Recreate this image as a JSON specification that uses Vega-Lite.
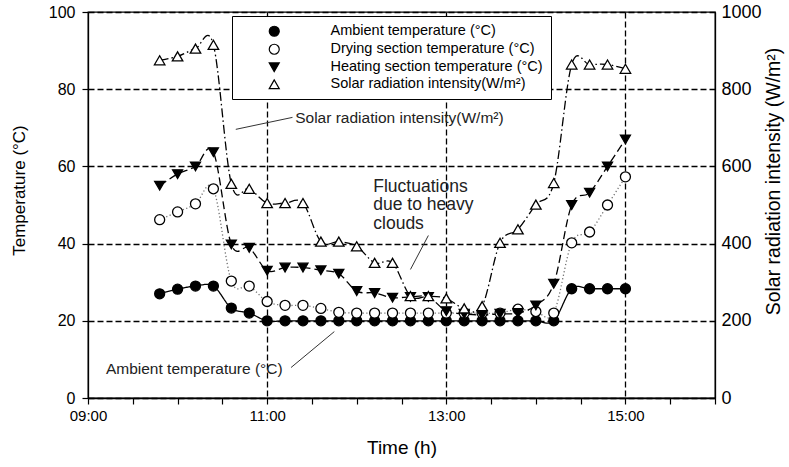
{
  "$schema": "https://vega.github.io/schema/vega-lite/v6.json",
  "width": 627,
  "height": 386,
  "autosize": {"type": "none"},
  "padding": {"left": 88, "top": 12, "right": 74, "bottom": 69},
  "background": "white",
  "config": {
    "view": {"stroke": "black", "strokeWidth": 1.3},
    "font": "Liberation Sans",
    "axis": {"labelFont": "Liberation Sans", "titleFont": "Liberation Sans", "labelColor": "black", "titleColor": "black", "titleFontWeight": "normal", "domainColor": "black", "domainWidth": 1.3, "tickColor": "black", "tickWidth": 1.2}
  },
  "datasets": {
    "temp": [
      {"time": 9.8, "series": "Ambient temperature (°C)", "value": 27},
      {"time": 10.0, "series": "Ambient temperature (°C)", "value": 28.2},
      {"time": 10.2, "series": "Ambient temperature (°C)", "value": 29},
      {"time": 10.4, "series": "Ambient temperature (°C)", "value": 29},
      {"time": 10.6, "series": "Ambient temperature (°C)", "value": 23.3},
      {"time": 10.8, "series": "Ambient temperature (°C)", "value": 22},
      {"time": 11.0, "series": "Ambient temperature (°C)", "value": 20},
      {"time": 11.2, "series": "Ambient temperature (°C)", "value": 20},
      {"time": 11.4, "series": "Ambient temperature (°C)", "value": 20},
      {"time": 11.6, "series": "Ambient temperature (°C)", "value": 20},
      {"time": 11.8, "series": "Ambient temperature (°C)", "value": 20},
      {"time": 12.0, "series": "Ambient temperature (°C)", "value": 20},
      {"time": 12.2, "series": "Ambient temperature (°C)", "value": 20},
      {"time": 12.4, "series": "Ambient temperature (°C)", "value": 20},
      {"time": 12.6, "series": "Ambient temperature (°C)", "value": 20},
      {"time": 12.8, "series": "Ambient temperature (°C)", "value": 20},
      {"time": 13.0, "series": "Ambient temperature (°C)", "value": 20},
      {"time": 13.2, "series": "Ambient temperature (°C)", "value": 20},
      {"time": 13.4, "series": "Ambient temperature (°C)", "value": 20},
      {"time": 13.6, "series": "Ambient temperature (°C)", "value": 20},
      {"time": 13.8, "series": "Ambient temperature (°C)", "value": 20},
      {"time": 14.0, "series": "Ambient temperature (°C)", "value": 20},
      {"time": 14.2, "series": "Ambient temperature (°C)", "value": 20},
      {"time": 14.4, "series": "Ambient temperature (°C)", "value": 28.3},
      {"time": 14.6, "series": "Ambient temperature (°C)", "value": 28.3},
      {"time": 14.8, "series": "Ambient temperature (°C)", "value": 28.3},
      {"time": 15.0, "series": "Ambient temperature (°C)", "value": 28.3},
      {"time": 9.8, "series": "Drying section temperature (°C)", "value": 46.2},
      {"time": 10.0, "series": "Drying section temperature (°C)", "value": 48.2},
      {"time": 10.2, "series": "Drying section temperature (°C)", "value": 50.3},
      {"time": 10.4, "series": "Drying section temperature (°C)", "value": 54.2},
      {"time": 10.6, "series": "Drying section temperature (°C)", "value": 30.3},
      {"time": 10.8, "series": "Drying section temperature (°C)", "value": 29},
      {"time": 11.0, "series": "Drying section temperature (°C)", "value": 25},
      {"time": 11.2, "series": "Drying section temperature (°C)", "value": 24},
      {"time": 11.4, "series": "Drying section temperature (°C)", "value": 24},
      {"time": 11.6, "series": "Drying section temperature (°C)", "value": 23.2},
      {"time": 11.8, "series": "Drying section temperature (°C)", "value": 22.2},
      {"time": 12.0, "series": "Drying section temperature (°C)", "value": 22},
      {"time": 12.2, "series": "Drying section temperature (°C)", "value": 22},
      {"time": 12.4, "series": "Drying section temperature (°C)", "value": 22},
      {"time": 12.6, "series": "Drying section temperature (°C)", "value": 22},
      {"time": 12.8, "series": "Drying section temperature (°C)", "value": 22},
      {"time": 13.0, "series": "Drying section temperature (°C)", "value": 22},
      {"time": 13.2, "series": "Drying section temperature (°C)", "value": 22},
      {"time": 13.4, "series": "Drying section temperature (°C)", "value": 22},
      {"time": 13.6, "series": "Drying section temperature (°C)", "value": 22},
      {"time": 13.8, "series": "Drying section temperature (°C)", "value": 23},
      {"time": 14.0, "series": "Drying section temperature (°C)", "value": 22.4},
      {"time": 14.2, "series": "Drying section temperature (°C)", "value": 22},
      {"time": 14.4, "series": "Drying section temperature (°C)", "value": 40.2},
      {"time": 14.6, "series": "Drying section temperature (°C)", "value": 43},
      {"time": 14.8, "series": "Drying section temperature (°C)", "value": 50},
      {"time": 15.0, "series": "Drying section temperature (°C)", "value": 57.3},
      {"time": 9.8, "series": "Heating section temperature (°C)", "value": 55},
      {"time": 10.0, "series": "Heating section temperature (°C)", "value": 58},
      {"time": 10.2, "series": "Heating section temperature (°C)", "value": 60},
      {"time": 10.4, "series": "Heating section temperature (°C)", "value": 63.7},
      {"time": 10.6, "series": "Heating section temperature (°C)", "value": 39.8},
      {"time": 10.8, "series": "Heating section temperature (°C)", "value": 38.9},
      {"time": 11.0, "series": "Heating section temperature (°C)", "value": 33},
      {"time": 11.2, "series": "Heating section temperature (°C)", "value": 33.8},
      {"time": 11.4, "series": "Heating section temperature (°C)", "value": 33.8},
      {"time": 11.6, "series": "Heating section temperature (°C)", "value": 33.1},
      {"time": 11.8, "series": "Heating section temperature (°C)", "value": 32.2},
      {"time": 12.0, "series": "Heating section temperature (°C)", "value": 27.7},
      {"time": 12.2, "series": "Heating section temperature (°C)", "value": 27.2},
      {"time": 12.4, "series": "Heating section temperature (°C)", "value": 26},
      {"time": 12.6, "series": "Heating section temperature (°C)", "value": 26.2},
      {"time": 12.8, "series": "Heating section temperature (°C)", "value": 26.2},
      {"time": 13.0, "series": "Heating section temperature (°C)", "value": 22.5},
      {"time": 13.2, "series": "Heating section temperature (°C)", "value": 21.8},
      {"time": 13.4, "series": "Heating section temperature (°C)", "value": 21.5},
      {"time": 13.6, "series": "Heating section temperature (°C)", "value": 21.8},
      {"time": 13.8, "series": "Heating section temperature (°C)", "value": 22},
      {"time": 14.0, "series": "Heating section temperature (°C)", "value": 24},
      {"time": 14.2, "series": "Heating section temperature (°C)", "value": 29.6},
      {"time": 14.4, "series": "Heating section temperature (°C)", "value": 50},
      {"time": 14.6, "series": "Heating section temperature (°C)", "value": 53.2},
      {"time": 14.8, "series": "Heating section temperature (°C)", "value": 60},
      {"time": 15.0, "series": "Heating section temperature (°C)", "value": 67}
    ],
    "solar": [
      {"time": 9.8, "series": "Solar radiation intensity(W/m²)", "value": 875},
      {"time": 10.0, "series": "Solar radiation intensity(W/m²)", "value": 885},
      {"time": 10.2, "series": "Solar radiation intensity(W/m²)", "value": 905},
      {"time": 10.4, "series": "Solar radiation intensity(W/m²)", "value": 915},
      {"time": 10.6, "series": "Solar radiation intensity(W/m²)", "value": 555},
      {"time": 10.8, "series": "Solar radiation intensity(W/m²)", "value": 542},
      {"time": 11.0, "series": "Solar radiation intensity(W/m²)", "value": 505},
      {"time": 11.2, "series": "Solar radiation intensity(W/m²)", "value": 505},
      {"time": 11.4, "series": "Solar radiation intensity(W/m²)", "value": 505},
      {"time": 11.6, "series": "Solar radiation intensity(W/m²)", "value": 405},
      {"time": 11.8, "series": "Solar radiation intensity(W/m²)", "value": 405},
      {"time": 12.0, "series": "Solar radiation intensity(W/m²)", "value": 393},
      {"time": 12.2, "series": "Solar radiation intensity(W/m²)", "value": 350},
      {"time": 12.4, "series": "Solar radiation intensity(W/m²)", "value": 350},
      {"time": 12.6, "series": "Solar radiation intensity(W/m²)", "value": 264},
      {"time": 12.8, "series": "Solar radiation intensity(W/m²)", "value": 264},
      {"time": 13.0, "series": "Solar radiation intensity(W/m²)", "value": 258},
      {"time": 13.2, "series": "Solar radiation intensity(W/m²)", "value": 232},
      {"time": 13.4, "series": "Solar radiation intensity(W/m²)", "value": 238},
      {"time": 13.6, "series": "Solar radiation intensity(W/m²)", "value": 402},
      {"time": 13.8, "series": "Solar radiation intensity(W/m²)", "value": 437},
      {"time": 14.0, "series": "Solar radiation intensity(W/m²)", "value": 501},
      {"time": 14.2, "series": "Solar radiation intensity(W/m²)", "value": 557},
      {"time": 14.4, "series": "Solar radiation intensity(W/m²)", "value": 864},
      {"time": 14.6, "series": "Solar radiation intensity(W/m²)", "value": 864},
      {"time": 14.8, "series": "Solar radiation intensity(W/m²)", "value": 864},
      {"time": 15.0, "series": "Solar radiation intensity(W/m²)", "value": 853}
    ]
  },
  "layer": [
    {
      "layer": [
        {
          "data": {"name": "temp"},
          "mark": {"type": "line", "interpolate": "cardinal", "strokeWidth": 1.3},
          "encoding": {
            "x": {
              "field": "time", "type": "quantitative",
              "scale": {"domain": [9, 16], "nice": false, "zero": false},
              "axis": {
                "title": "Time (h)",
                "values": [9, 9.5, 10, 10.5, 11, 11.5, 12, 12.5, 13, 13.5, 14, 14.5, 15, 15.5, 16],
                "labelExpr": "datum.value % 2 == 1 ? (datum.value < 10 ? '0' : '') + datum.value + ':00' : ''",
                "labelOverlap": false, "labelFlush": false, "labelFontSize": 15, "labelPadding": 4, "tickSize": 6,
                "grid": true, "gridColor": "black", "gridDash": [6, 3], "gridWidth": 1.3,
                "gridOpacity": {"condition": {"test": "datum.value % 2 == 1 && datum.value > 9", "value": 1}, "value": 0},
                "titleFontSize": 19, "titlePadding": 15
              }
            },
            "y": {
              "field": "value", "type": "quantitative",
              "scale": {"domain": [0, 100]},
              "axis": {
                "title": "Temperature (°C)", "values": [0, 20, 40, 60, 80, 100],
                "labelFontSize": 16, "labelPadding": 7, "tickSize": 6,
                "grid": true, "gridColor": "black", "gridDash": [6, 3], "gridWidth": 1.3,
                "titleFontSize": 17, "titlePadding": 20, "titleY": 178
              }
            },
            "strokeDash": {"field": "series", "type": "nominal", "scale": {"range": [[1, 0], [1.2, 2.4], [8, 4], [9, 3, 1.5, 3]]}, "legend": null},
            "color": {"field": "series", "type": "nominal", "scale": {"range": ["black", "#707070", "black", "black"]}, "legend": null}
          }
        },
        {
          "data": {"name": "temp"},
          "mark": {"type": "point", "opacity": 1, "strokeWidth": 1.3, "size": 100},
          "encoding": {
            "x": {"field": "time", "type": "quantitative", "scale": {"domain": [9, 16], "nice": false, "zero": false}},
            "y": {"field": "value", "type": "quantitative", "scale": {"domain": [0, 100]}},
            "shape": {
              "field": "series", "type": "nominal",
              "scale": {"domain": ["Ambient temperature (°C)", "Drying section temperature (°C)", "Heating section temperature (°C)", "Solar radiation intensity(W/m²)"], "range": ["circle", "circle", "triangle-down", "triangle-up"]},
              "legend": {
                "orient": "none", "legendX": 144, "legendY": 4, "title": null, "direction": "vertical",
                "symbolSize": 100, "symbolOffset": 27, "labelOffset": 49, "symbolStrokeWidth": 1.2,
                "labelFontSize": 14.5, "labelFont": "Liberation Sans", "labelColor": "black", "labelLimit": 400,
                "strokeColor": "black", "fillColor": "white", "padding": 8, "rowPadding": 2
              }
            },
            "fill": {
              "field": "series", "type": "nominal",
              "scale": {"domain": ["Ambient temperature (°C)", "Drying section temperature (°C)", "Heating section temperature (°C)", "Solar radiation intensity(W/m²)"], "range": ["black", "white", "black", "white"]},
              "legend": {
                "orient": "none", "legendX": 144, "legendY": 4, "title": null, "direction": "vertical",
                "symbolSize": 100, "symbolOffset": 27, "labelOffset": 49, "symbolStrokeWidth": 1.2,
                "labelFontSize": 14.5, "labelFont": "Liberation Sans", "labelColor": "black", "labelLimit": 400,
                "strokeColor": "black", "fillColor": "white", "padding": 8, "rowPadding": 2
              }
            },
            "stroke": {"value": "black"}
          }
        },
        {
          "data": {"values": [{}]},
          "mark": {"type": "rule", "color": "#333333", "strokeWidth": 1},
          "encoding": {
            "x": {"datum": 10.65, "type": "quantitative"},
            "y": {"datum": 69.6, "type": "quantitative"},
            "x2": {"datum": 11.283},
            "y2": {"datum": 72.7}
          }
        },
        {
          "data": {"values": [{}]},
          "mark": {"type": "text", "align": "left", "baseline": "middle", "fontSize": 15.5, "font": "Liberation Sans", "color": "#222222", "text": "Solar radiation intensity(W/m²)"},
          "encoding": {
            "x": {"datum": 11.313, "type": "quantitative"},
            "y": {"datum": 72.6, "type": "quantitative"}
          }
        },
        {
          "data": {"values": [{}]},
          "mark": {"type": "rule", "color": "#333333", "strokeWidth": 1},
          "encoding": {
            "x": {"datum": 12.8, "type": "quantitative"},
            "y": {"datum": 42.1, "type": "quantitative"},
            "x2": {"datum": 12.6},
            "y2": {"datum": 33.3}
          }
        },
        {
          "data": {"values": [{}]},
          "mark": {"type": "text", "align": "left", "baseline": "top", "fontSize": 17.5, "lineHeight": 18.5, "lineBreak": "\n", "font": "Liberation Sans", "color": "#222222", "text": "Fluctuations\ndue to heavy\nclouds"},
          "encoding": {
            "x": {"datum": 12.185, "type": "quantitative"},
            "y": {"datum": 57.0, "type": "quantitative"}
          }
        },
        {
          "data": {"values": [{}]},
          "mark": {"type": "rule", "color": "#333333", "strokeWidth": 1},
          "encoding": {
            "x": {"datum": 11.267, "type": "quantitative"},
            "y": {"datum": 7.9, "type": "quantitative"},
            "x2": {"datum": 11.75},
            "y2": {"datum": 17.2}
          }
        },
        {
          "data": {"values": [{}]},
          "mark": {"type": "text", "align": "left", "baseline": "middle", "fontSize": 15.5, "font": "Liberation Sans", "color": "#222222", "text": "Ambient temperature (°C)"},
          "encoding": {
            "x": {"datum": 9.2, "type": "quantitative"},
            "y": {"datum": 7.4, "type": "quantitative"}
          }
        }
      ]
    },
    {
      "data": {"name": "solar"},
      "encoding": {
        "x": {
          "field": "time", "type": "quantitative",
          "scale": {"domain": [9, 16], "nice": false, "zero": false}
        },
        "y": {
          "field": "value", "type": "quantitative",
          "scale": {"domain": [0, 1000]},
          "axis": {
            "orient": "right", "title": "Solar radiation intensity (W/m²)", "values": [0, 200, 400, 600, 800, 1000], "format": "d",
            "ticks": false, "tickSize": 0, "labelPadding": 6, "labelFontSize": 18, "grid": false,
            "titleAngle": 270, "titleBaseline": "top", "titleFontSize": 19.5, "titlePadding": 3, "titleY": 169
          }
        }
      },
      "layer": [
        {
          "mark": {"type": "line", "interpolate": "cardinal", "strokeWidth": 1.3},
          "encoding": {
            "strokeDash": {"field": "series", "type": "nominal", "scale": {"range": [[1, 0], [1.2, 2.4], [8, 4], [9, 3, 1.5, 3]]}, "legend": null},
            "color": {"field": "series", "type": "nominal", "scale": {"range": ["black", "#707070", "black", "black"]}, "legend": null}
          }
        },
        {
          "mark": {"type": "point", "opacity": 1, "strokeWidth": 1.3, "size": 110},
          "encoding": {
            "shape": {"field": "series", "type": "nominal", "scale": {"domain": ["Ambient temperature (°C)", "Drying section temperature (°C)", "Heating section temperature (°C)", "Solar radiation intensity(W/m²)"], "range": ["circle", "circle", "triangle-down", "triangle-up"]}},
            "fill": {"field": "series", "type": "nominal", "scale": {"domain": ["Ambient temperature (°C)", "Drying section temperature (°C)", "Heating section temperature (°C)", "Solar radiation intensity(W/m²)"], "range": ["black", "white", "black", "white"]}},
            "stroke": {"value": "black"}
          }
        }
      ]
    }
  ],
  "resolve": {"scale": {"y": "independent"}}
}
